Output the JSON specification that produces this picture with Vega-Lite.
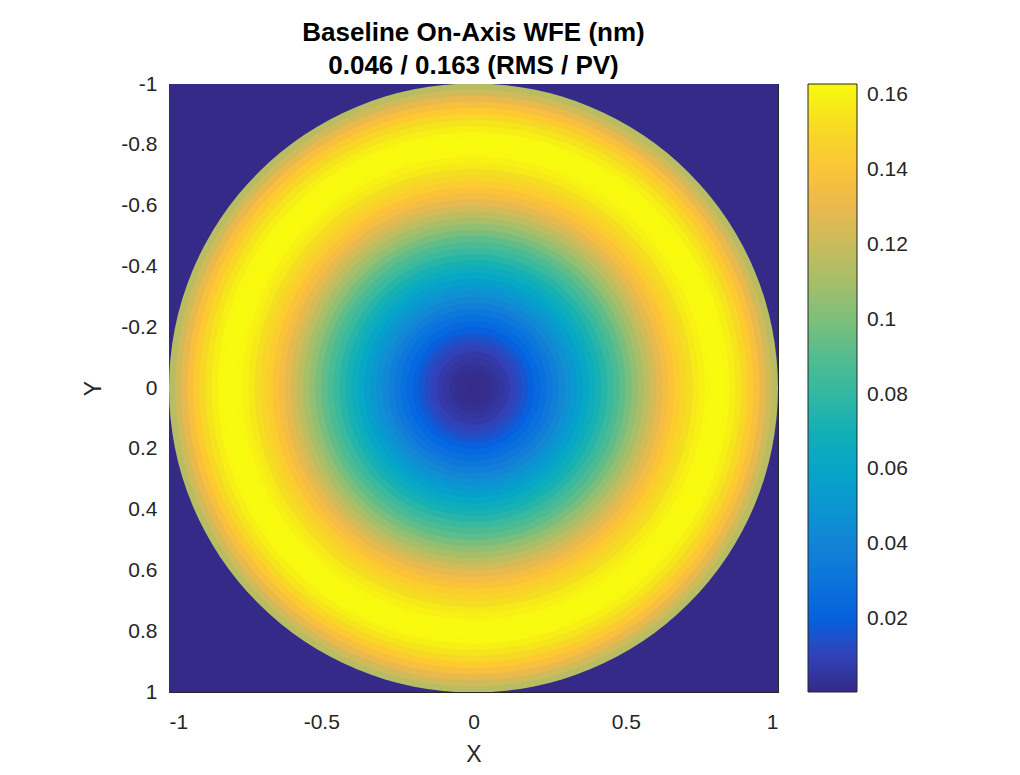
{
  "$schema": "https://vega.github.io/schema/vega-lite/v6.json",
  "width": 609,
  "height": 608,
  "autosize": "none",
  "padding": {"left": 169, "top": 84, "right": 242, "bottom": 83},
  "background": "white",
  "title": {
    "text": ["Baseline On-Axis WFE (nm)", "0.046 / 0.163 (RMS / PV)"],
    "font": "Liberation Sans",
    "fontSize": 26,
    "fontWeight": "bold",
    "color": "#000000",
    "anchor": "middle",
    "frame": "group",
    "offset": -6,
    "lineHeight": 33
  },
  "config": {
    "view": {"stroke": null},
    "axis": {
      "labelFont": "Liberation Sans",
      "labelFontSize": 21,
      "labelColor": "#262626",
      "titleFont": "Liberation Sans",
      "titleFontSize": 23,
      "titleFontWeight": "normal",
      "titleColor": "#262626",
      "domainColor": "#262626",
      "domainWidth": 1,
      "tickColor": "#262626",
      "tickWidth": 1,
      "tickSize": -6,
      "grid": false,
      "zindex": 1
    },
    "legend": {
      "labelFont": "Liberation Sans",
      "labelFontSize": 21,
      "labelColor": "#262626"
    }
  },
  "resolve": {"axis": {"x": "independent", "y": "independent"}},
  "layer": [
    {
      "data": {"values": [{"x0": -1, "x1": 1, "y0": -1, "y1": 1}]},
      "mark": {"type": "rect", "fill": "#352a87"},
      "encoding": {
        "x": {
          "field": "x0", "type": "quantitative",
          "scale": {"domain": [-1, 1], "nice": false, "zero": false},
          "axis": null
        },
        "x2": {"field": "x1"},
        "y": {
          "field": "y0", "type": "quantitative",
          "scale": {"domain": [-1, 1], "nice": false, "zero": false, "reverse": true},
          "axis": null
        },
        "y2": {"field": "y1"}
      }
    },
    {
      "data": {"values": [
        {"cx": 0, "cy": 0, "r": 1.00, "v": 0.115},
        {"cx": 0, "cy": 0, "r": 0.98, "v": 0.122},
        {"cx": 0, "cy": 0, "r": 0.96, "v": 0.130},
        {"cx": 0, "cy": 0, "r": 0.94, "v": 0.137},
        {"cx": 0, "cy": 0, "r": 0.92, "v": 0.144},
        {"cx": 0, "cy": 0, "r": 0.90, "v": 0.150},
        {"cx": 0, "cy": 0, "r": 0.88, "v": 0.155},
        {"cx": 0, "cy": 0, "r": 0.86, "v": 0.159},
        {"cx": 0, "cy": 0, "r": 0.84, "v": 0.162},
        {"cx": 0, "cy": 0, "r": 0.82, "v": 0.163},
        {"cx": 0, "cy": 0, "r": 0.80, "v": 0.163},
        {"cx": 0, "cy": 0, "r": 0.78, "v": 0.162},
        {"cx": 0, "cy": 0, "r": 0.76, "v": 0.160},
        {"cx": 0, "cy": 0, "r": 0.74, "v": 0.157},
        {"cx": 0, "cy": 0, "r": 0.72, "v": 0.153},
        {"cx": 0, "cy": 0, "r": 0.70, "v": 0.149},
        {"cx": 0, "cy": 0, "r": 0.68, "v": 0.145},
        {"cx": 0, "cy": 0, "r": 0.66, "v": 0.140},
        {"cx": 0, "cy": 0, "r": 0.64, "v": 0.135},
        {"cx": 0, "cy": 0, "r": 0.62, "v": 0.129},
        {"cx": 0, "cy": 0, "r": 0.60, "v": 0.123},
        {"cx": 0, "cy": 0, "r": 0.58, "v": 0.117},
        {"cx": 0, "cy": 0, "r": 0.56, "v": 0.111},
        {"cx": 0, "cy": 0, "r": 0.54, "v": 0.105},
        {"cx": 0, "cy": 0, "r": 0.52, "v": 0.099},
        {"cx": 0, "cy": 0, "r": 0.50, "v": 0.093},
        {"cx": 0, "cy": 0, "r": 0.48, "v": 0.088},
        {"cx": 0, "cy": 0, "r": 0.46, "v": 0.082},
        {"cx": 0, "cy": 0, "r": 0.44, "v": 0.077},
        {"cx": 0, "cy": 0, "r": 0.42, "v": 0.072},
        {"cx": 0, "cy": 0, "r": 0.40, "v": 0.067},
        {"cx": 0, "cy": 0, "r": 0.38, "v": 0.062},
        {"cx": 0, "cy": 0, "r": 0.36, "v": 0.057},
        {"cx": 0, "cy": 0, "r": 0.34, "v": 0.052},
        {"cx": 0, "cy": 0, "r": 0.32, "v": 0.047},
        {"cx": 0, "cy": 0, "r": 0.30, "v": 0.042},
        {"cx": 0, "cy": 0, "r": 0.28, "v": 0.037},
        {"cx": 0, "cy": 0, "r": 0.26, "v": 0.032},
        {"cx": 0, "cy": 0, "r": 0.24, "v": 0.028},
        {"cx": 0, "cy": 0, "r": 0.22, "v": 0.024},
        {"cx": 0, "cy": 0, "r": 0.20, "v": 0.020},
        {"cx": 0, "cy": 0, "r": 0.18, "v": 0.016},
        {"cx": 0, "cy": 0, "r": 0.16, "v": 0.013},
        {"cx": 0, "cy": 0, "r": 0.14, "v": 0.010},
        {"cx": 0, "cy": 0, "r": 0.12, "v": 0.007},
        {"cx": 0, "cy": 0, "r": 0.10, "v": 0.005},
        {"cx": 0, "cy": 0, "r": 0.08, "v": 0.0035},
        {"cx": 0, "cy": 0, "r": 0.06, "v": 0.002},
        {"cx": 0, "cy": 0, "r": 0.04, "v": 0.0012},
        {"cx": 0, "cy": 0, "r": 0.02, "v": 0.0008}
      ]},
      "mark": {"type": "circle", "opacity": 1, "strokeWidth": 0, "clip": true},
      "encoding": {
        "x": {"field": "cx", "type": "quantitative", "axis": null},
        "y": {"field": "cy", "type": "quantitative", "axis": null},
        "size": {
          "field": "r", "type": "quantitative", "legend": null,
          "scale": {"type": "pow", "exponent": 2, "domain": [0, 1], "range": [0, 370881]}
        },
        "color": {
          "field": "v", "type": "quantitative",
          "scale": {
            "domain": [0.0005, 0.163],
            "interpolate": "rgb",
            "range": ["#352a87", "#3243ba", "#0363e1", "#0d75dc", "#1485d4", "#0998d1", "#06a7c6", "#15b1b4", "#38b99e", "#59bd8c", "#87bf77", "#aebe67", "#d1bb59", "#f1b94a", "#fec832", "#f5de21", "#f9fb0e"]
          },
          "legend": {
            "orient": "right",
            "offset": 29,
            "padding": 0,
            "title": null,
            "direction": "vertical",
            "gradientLength": 608,
            "gradientThickness": 49,
            "gradientStrokeColor": "#262626",
            "gradientStrokeWidth": 1,
            "values": [0.02, 0.04, 0.06, 0.08, 0.1, 0.12, 0.14, 0.16],
            "labelExpr": "'' + datum.value",
            "labelOffset": 10,
            "labelOverlap": false
          }
        }
      }
    },
    {
      "data": {"values": [{"x0": -1, "x1": 1, "y0": -1, "y1": 1}]},
      "mark": {"type": "rect", "fillOpacity": 0},
      "encoding": {
        "x": {
          "field": "x0", "type": "quantitative",
          "axis": {"orient": "bottom", "values": [-1, -0.5, 0, 0.5, 1], "labelExpr": "'' + datum.value", "title": "X", "labelPadding": 25, "titlePadding": 11}
        },
        "x2": {"field": "x1"},
        "y": {
          "field": "y0", "type": "quantitative",
          "axis": {"orient": "left", "values": [-1, -0.8, -0.6, -0.4, -0.2, 0, 0.2, 0.4, 0.6, 0.8, 1], "labelExpr": "'' + datum.value", "title": "Y", "labelPadding": 18, "titlePadding": 15}
        },
        "y2": {"field": "y1"}
      }
    },
    {
      "data": {"values": [{"x0": -1, "x1": 1, "y0": -1, "y1": 1}]},
      "mark": {"type": "rect", "fillOpacity": 0},
      "encoding": {
        "x": {
          "field": "x0", "type": "quantitative",
          "axis": {"orient": "top", "values": [-1, -0.5, 0, 0.5, 1], "labels": false, "title": null}
        },
        "x2": {"field": "x1"},
        "y": {
          "field": "y0", "type": "quantitative",
          "axis": {"orient": "right", "values": [-1, -0.8, -0.6, -0.4, -0.2, 0, 0.2, 0.4, 0.6, 0.8, 1], "labels": false, "title": null}
        },
        "y2": {"field": "y1"}
      }
    }
  ]
}
